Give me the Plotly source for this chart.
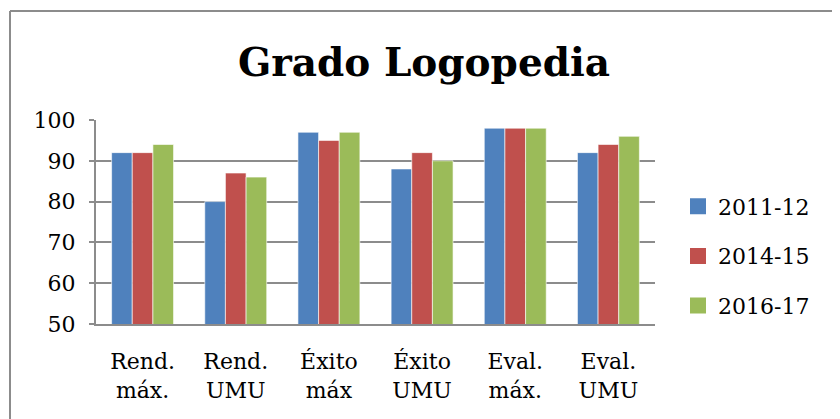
import plotly.graph_objects as go

categories = ["Rend.<br>máx.", "Rend.<br>UMU", "Éxito<br>máx", "Éxito<br>UMU", "Eval.<br>máx.", "Eval.<br>UMU"]
series_names = ["2011-12", "2014-15", "2016-17"]
values_2011 = [92, 80, 97, 88, 98, 92]
values_2014 = [92, 87, 95, 92, 98, 94]
values_2016 = [94, 86, 97, 90, 98, 96]
colors = ["#4F81BD", "#C0504D", "#9BBB59"]
y_ticks = [50, 60, 70, 80, 90, 100]

FONT = "DejaVu Serif"

fig = go.Figure()
for name, vals, col in zip(series_names, [values_2011, values_2014, values_2016], colors):
    fig.add_trace(go.Bar(
        x=categories, y=vals, name=name, legendgroup=name, showlegend=False,
        marker=dict(color=col, line=dict(color="rgba(255,255,255,0.6)", width=1)),
    ))
# legend entries with larger square swatches
for name, col in zip(series_names, colors):
    fig.add_trace(go.Scatter(
        x=[None], y=[None], mode="markers", name=name, legendgroup=name,
        marker=dict(symbol="square", size=16, color=col), hoverinfo="skip",
    ))

# page body has an 8px margin; figure pixel = reference pixel - OFF
OFF = 8
W, H = 840, 419
L, T = 96 - OFF, 120 - OFF
R = W - (655 - OFF)
B = H - (324 - OFF)
pw, ph = W - L - R, H - T - B

def px_x(x):
    return (x - OFF - L) / pw

def px_y(y):
    return (H - B - (y - OFF)) / ph

fig.update_layout(
    width=W, height=H,
    margin=dict(l=L, r=R, t=T, b=B, autoexpand=False),
    paper_bgcolor="white", plot_bgcolor="white",
    barmode="group", bargap=0.335, bargroupgap=0,
    font=dict(family=FONT, color="black", size=22),
    title=dict(text="<b>Grado Logopedia</b>", x=(424 - OFF) / W, xanchor="center",
               y=1 - (62 - OFF) / H, yanchor="middle", font=dict(family=FONT, size=39, color="black")),
    legend=dict(x=px_x(678), xanchor="left", y=px_y(256), yanchor="middle",
                font=dict(family=FONT, size=22), tracegroupgap=18, itemwidth=30,
                bgcolor="rgba(0,0,0,0)"),
    showlegend=True,
    xaxis=dict(showline=True, linecolor="#8c8c8c", linewidth=2, showgrid=False,
               ticks="", ticklabelstandoff=17, tickfont=dict(size=22, family=FONT)),
    yaxis=dict(range=[50, 100], tickvals=y_ticks, showline=True, linecolor="#8c8c8c", linewidth=2,
               showgrid=True, gridcolor="#8c8c8c", gridwidth=2, zeroline=False,
               ticks="outside", ticklen=5, tickcolor="#8c8c8c", tickwidth=2,
               ticklabelstandoff=9, tickfont=dict(size=22, family=FONT)),
    shapes=[
        dict(type="line", xref="paper", yref="paper", x0=px_x(10), x1=px_x(860), y0=px_y(11), y1=px_y(11),
             line=dict(color="#8c8c8c", width=2)),
        dict(type="line", xref="paper", yref="paper", x0=px_x(10), x1=px_x(10), y0=px_y(11), y1=px_y(440),
             line=dict(color="#8c8c8c", width=2)),
    ],
)

fig.write_html("out.html")
